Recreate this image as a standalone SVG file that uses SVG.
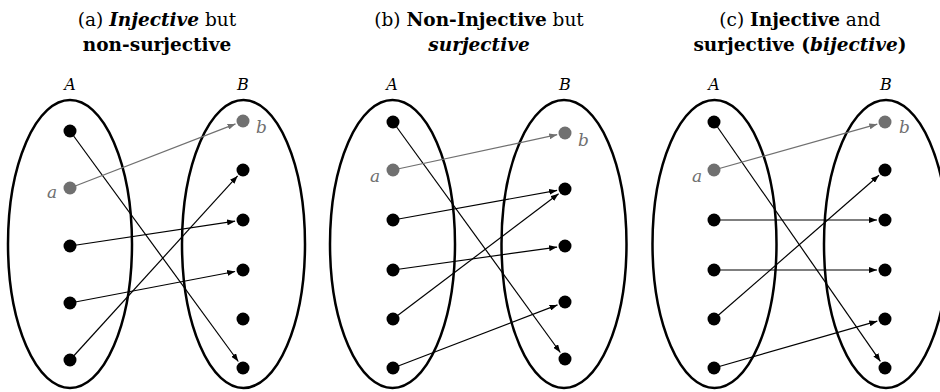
<svg xmlns="http://www.w3.org/2000/svg" width="940" height="392" viewBox="0 0 940 392">
<style>
.set{fill:none;stroke:#000;stroke-width:2.5}
.title{font-family:"DejaVu Serif","Liberation Serif",serif;font-size:18.5px;text-anchor:middle;fill:#000}
.lbl{font-family:"DejaVu Serif","Liberation Serif",serif;font-style:italic;font-size:16px;text-anchor:middle;fill:#000}
.el{font-family:"DejaVu Serif","Liberation Serif",serif;font-style:italic;font-size:17px;fill:#707070}
.dot{fill:#000}
.gdot{fill:#707070}
.arr{stroke:#000;stroke-width:1.2;fill:none;marker-end:url(#ah)}
.garr{stroke:#707070;stroke-width:1.2;fill:none;marker-end:url(#gah)}
</style>
<defs>
<marker id="ah" markerUnits="userSpaceOnUse" markerWidth="9" markerHeight="6" refX="8" refY="3" orient="auto"><path d="M0,0 L8,3 L0,6 Z" fill="#000"/></marker>
<marker id="gah" markerUnits="userSpaceOnUse" markerWidth="9" markerHeight="6" refX="8" refY="3" orient="auto"><path d="M0,0 L8,3 L0,6 Z" fill="#707070"/></marker>
</defs>
<rect width="940" height="392" fill="#fff"/>

<g id="titles">
<text class="title" x="157" y="26">(a) <tspan font-weight="bold" font-style="italic">Injective</tspan> but</text>
<text class="title" x="157" y="51" font-weight="bold">non-surjective</text>
<text class="title" x="479" y="26">(b) <tspan font-weight="bold">Non-Injective</tspan> but</text>
<text class="title" x="479" y="51" font-weight="bold" font-style="italic">surjective</text>
<text class="title" x="800" y="26">(c) <tspan font-weight="bold">Injective</tspan> and</text>
<text class="title" x="800" y="51" font-weight="bold">surjective (<tspan font-style="italic">bijective</tspan>)</text>
</g>

<g id="setA_a"><text class="lbl" x="70" y="90">A</text><ellipse class="set" cx="70" cy="244" rx="62" ry="144"/></g>
<g id="setB_a"><text class="lbl" x="243" y="90">B</text><ellipse class="set" cx="243.5" cy="244" rx="61.5" ry="144"/></g>
<g id="setA_b"><text class="lbl" x="392" y="90">A</text><ellipse class="set" cx="392.5" cy="244" rx="62.5" ry="144"/></g>
<g id="setB_b"><text class="lbl" x="565" y="90">B</text><ellipse class="set" cx="564" cy="244" rx="62.5" ry="144"/></g>
<g id="setA_c"><text class="lbl" x="714" y="90">A</text><ellipse class="set" cx="714.5" cy="244" rx="62" ry="144"/></g>
<g id="setB_c"><text class="lbl" x="886" y="90">B</text><ellipse class="set" cx="886" cy="244" rx="62" ry="144"/></g>

<g id="connectors">
<line class="arr" x1="70" y1="131" x2="238.3" y2="361.5"/>
<line class="garr" x1="70" y1="188" x2="235.5" y2="123.9"/>
<line class="arr" x1="70" y1="246" x2="235.1" y2="221.2"/>
<line class="arr" x1="70" y1="303" x2="235.1" y2="271.5"/>
<line class="arr" x1="70" y1="360" x2="237.6" y2="175.9"/>

<line class="arr" x1="393" y1="122" x2="560.3" y2="352.5"/>
<line class="garr" x1="393" y1="170" x2="557.2" y2="134.7"/>
<line class="arr" x1="393" y1="220" x2="557.1" y2="190.4"/>
<line class="arr" x1="393" y1="270" x2="557.1" y2="247.1"/>
<line class="arr" x1="393" y1="319" x2="558.6" y2="193.8"/>
<line class="arr" x1="393" y1="368" x2="557.5" y2="304.9"/>

<line class="arr" x1="714" y1="122" x2="880.4" y2="361.4"/>
<line class="garr" x1="714" y1="170" x2="877.3" y2="124.2"/>
<line class="arr" x1="714" y1="220" x2="877" y2="220"/>
<line class="arr" x1="714" y1="270" x2="877" y2="270"/>
<line class="arr" x1="714" y1="319" x2="879" y2="175.3"/>
<line class="arr" x1="714" y1="368" x2="877.3" y2="321.2"/>
</g>

<g id="elements_a">
<circle class="dot" cx="70" cy="131" r="6.5"/>
<circle class="gdot" cx="70" cy="188" r="6.5"/>
<circle class="dot" cx="70" cy="246" r="6.5"/>
<circle class="dot" cx="70" cy="303" r="6.5"/>
<circle class="dot" cx="70" cy="360" r="6.5"/>
<circle class="gdot" cx="243" cy="121" r="6.5"/>
<circle class="dot" cx="243" cy="170" r="6.5"/>
<circle class="dot" cx="243" cy="220" r="6.5"/>
<circle class="dot" cx="243" cy="270" r="6.5"/>
<circle class="dot" cx="243" cy="319" r="6.5"/>
<circle class="dot" cx="243" cy="368" r="6.5"/>
<text class="el" x="47" y="198">a</text>
<text class="el" x="256" y="133">b</text>
</g>

<g id="elements_b">
<circle class="dot" cx="393" cy="122" r="6.5"/>
<circle class="gdot" cx="393" cy="170" r="6.5"/>
<circle class="dot" cx="393" cy="220" r="6.5"/>
<circle class="dot" cx="393" cy="270" r="6.5"/>
<circle class="dot" cx="393" cy="319" r="6.5"/>
<circle class="dot" cx="393" cy="368" r="6.5"/>
<circle class="gdot" cx="565" cy="133" r="6.5"/>
<circle class="dot" cx="565" cy="189" r="6.5"/>
<circle class="dot" cx="565" cy="246" r="6.5"/>
<circle class="dot" cx="565" cy="302" r="6.5"/>
<circle class="dot" cx="565" cy="359" r="6.5"/>
<text class="el" x="370" y="182">a</text>
<text class="el" x="578" y="146">b</text>
</g>

<g id="elements_c">
<circle class="dot" cx="714" cy="122" r="6.5"/>
<circle class="gdot" cx="714" cy="170" r="6.5"/>
<circle class="dot" cx="714" cy="220" r="6.5"/>
<circle class="dot" cx="714" cy="270" r="6.5"/>
<circle class="dot" cx="714" cy="319" r="6.5"/>
<circle class="dot" cx="714" cy="368" r="6.5"/>
<circle class="gdot" cx="885" cy="122" r="6.5"/>
<circle class="dot" cx="885" cy="170" r="6.5"/>
<circle class="dot" cx="885" cy="220" r="6.5"/>
<circle class="dot" cx="885" cy="270" r="6.5"/>
<circle class="dot" cx="885" cy="319" r="6.5"/>
<circle class="dot" cx="885" cy="368" r="6.5"/>
<text class="el" x="692" y="182">a</text>
<text class="el" x="899" y="133">b</text>
</g>
</svg>
